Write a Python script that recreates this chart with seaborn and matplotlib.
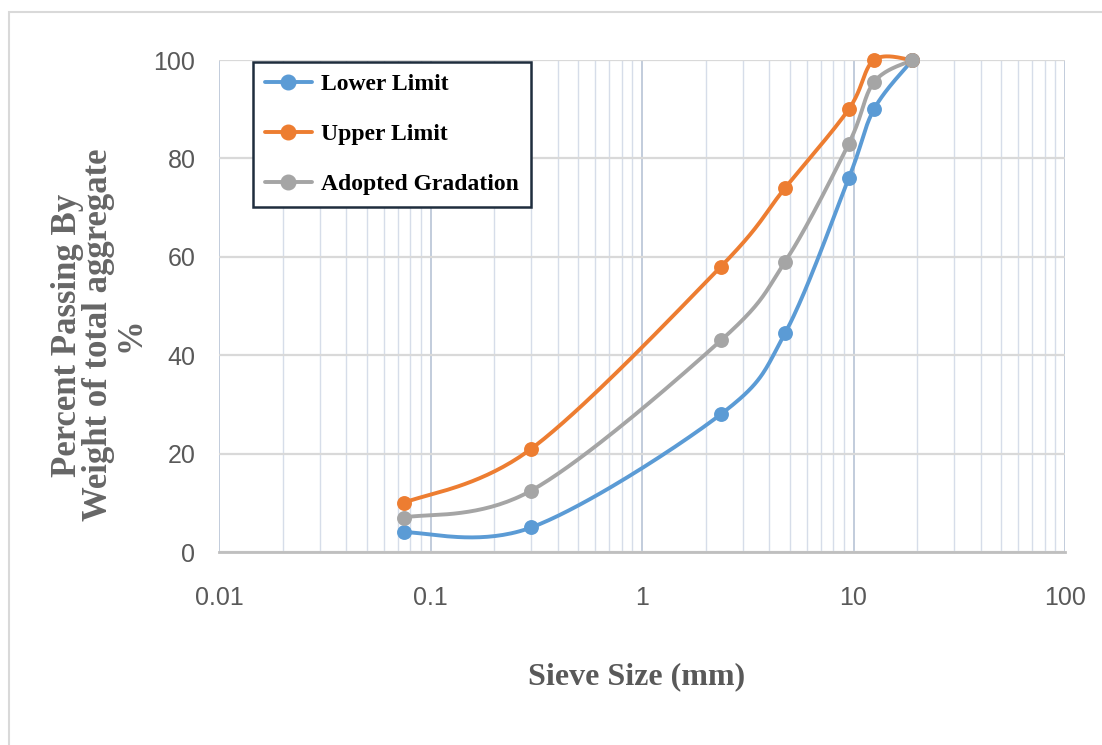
import numpy as np
import pandas as pd
import matplotlib
matplotlib.use("Agg")
import matplotlib.pyplot as plt
import seaborn as sns
from matplotlib.lines import Line2D
from matplotlib.patches import Rectangle
from matplotlib.ticker import FixedLocator, LogLocator, NullFormatter
from matplotlib import font_manager

# ---------------- data ----------------
sieve_mm = [0.075, 0.3, 2.36, 4.75, 9.5, 12.5, 19]
lower_limit = [4, 5, 28, 44.5, 76, 90, 100]
upper_limit = [10, 21, 58, 74, 90, 100, 100]
adopted_gradation = [7, 12.5, 43, 59, 83, 95.5, 100]
series_names = ["Lower Limit", "Upper Limit", "Adopted Gradation"]
x_ticks = [0.01, 0.1, 1, 10, 100]
x_tick_labels = ["0.01", "0.1", "1", "10", "100"]
y_ticks = [0, 20, 40, 60, 80, 100]

colors = ["#5B9BD5", "#ED7D31", "#A5A5A5"]

sns.set_theme(style="white")

names = {f.name for f in font_manager.fontManager.ttflist}
tick_family = "Liberation Sans Narrow" if "Liberation Sans Narrow" in names else (
    "Liberation Sans" if "Liberation Sans" in names else "DejaVu Sans")
serif_family = "Liberation Serif" if "Liberation Serif" in names else "DejaVu Serif"
plt.rcParams["font.family"] = [tick_family, "DejaVu Sans"]


def excel_smooth(xs, ys, n=40):
    """Excel-style smoothed line through the data points (Bezier, log-x space)."""
    pts = np.column_stack([np.log10(xs), np.asarray(ys, float)])
    out = []
    for i in range(len(pts) - 1):
        p0 = pts[i - 1] if i > 0 else pts[i]
        p1, p2 = pts[i], pts[i + 1]
        p3 = pts[i + 2] if i + 2 < len(pts) else pts[i + 1]
        c1 = p1 + (p2 - p0) / 6.0
        c2 = p2 - (p3 - p1) / 6.0
        t = np.linspace(0, 1, n)[:, None]
        seg = (1 - t) ** 3 * p1 + 3 * (1 - t) ** 2 * t * c1 + 3 * (1 - t) * t ** 2 * c2 + t ** 3 * p2
        out.append(seg if i == 0 else seg[1:])
    arr = np.vstack(out)
    return 10 ** arr[:, 0], arr[:, 1]


fig = plt.figure(figsize=(11.02, 7.45), dpi=100)
W, H = 1102, 745
L, R, T, B = 219, 1065, 60, 552
ax = fig.add_axes([L / W, 1 - B / H, (R - L) / W, (B - T) / H])
ax.set_xscale("log")
ax.set_xlim(0.01, 100)
ax.set_ylim(0, 100)

# grid
ax.xaxis.set_major_locator(FixedLocator(x_ticks))
ax.xaxis.set_minor_locator(LogLocator(base=10, subs=np.arange(2, 10)))
ax.xaxis.set_minor_formatter(NullFormatter())
ax.set_xticklabels(x_tick_labels)
ax.set_yticks(y_ticks)
ax.grid(which="minor", axis="x", color="#d6dde9", lw=1.0)
ax.grid(which="major", axis="x", color="#b8c3d6", lw=1.2)
ax.grid(which="major", axis="y", color="#d9d9d9", lw=1.6)
ax.set_axisbelow(True)
for s in ["left", "right", "top"]:
    ax.spines[s].set_visible(False)
ax.spines["bottom"].set_color("#bfbfbf")
ax.spines["bottom"].set_linewidth(2)

ax.tick_params(axis="x", which="major", direction="out", length=9.5, width=1.2,
               color="#bfbfbf", pad=15, labelsize=18, labelcolor="#595959")
ax.tick_params(axis="x", which="minor", length=0)
ax.tick_params(axis="y", length=0, pad=17, labelsize=18, labelcolor="#595959")

all_series = [lower_limit, upper_limit, adopted_gradation]
for name, vals, c in zip(series_names, all_series, colors):
    sx, sy = excel_smooth(sieve_mm, vals)
    df_s = pd.DataFrame({"x": sx, "y": sy})
    sns.lineplot(data=df_s, x="x", y="y", sort=False, estimator=None, color=c,
                 lw=2.8, ax=ax, legend=False)
    ax.lines[-1].set_clip_on(False)
    df_p = pd.DataFrame({"x": sieve_mm, "y": vals})
    sns.scatterplot(data=df_p, x="x", y="y", color=c, s=115, linewidth=0,
                    ax=ax, legend=False, zorder=5)
    ax.collections[-1].set_clip_on(False)

ax.set_xlabel("Sieve Size (mm)", family=serif_family, weight="bold", size=23,
              color="#595959", va="center")
ax.xaxis.set_label_coords((637 - L) / (R - L), (B - 677) / (B - T))
ax.set_ylabel("Percent Passing By\nWeight of total aggregate\n%", family=serif_family,
              weight="bold", size=25, color="#666666", va="center", ha="center",
              linespacing=0.95, multialignment="center")
ax.yaxis.set_label_coords((99 - L) / (R - L), (B - 335) / (B - T))

handles = [Line2D([0], [0], color=c, lw=2.8, marker="o", markersize=10.5) for c in colors]
leg = ax.legend(handles, series_names, loc="upper left",
                bbox_to_anchor=((253 - L) / (R - L), 1 - (62 - T) / (B - T)),
                prop={"family": serif_family, "weight": "bold", "size": 17},
                frameon=True, fancybox=False, framealpha=1, edgecolor="#1f2d3d",
                facecolor="white", handlelength=2.0, handletextpad=0.4,
                labelspacing=1.2, borderpad=0.5, borderaxespad=0)
leg.get_frame().set_linewidth(1.8)
for t in leg.get_texts():
    t.set_color("black")

fig.patches.append(Rectangle((9 / W, -0.01), 1.0, 1 - 12 / H + 0.01, transform=fig.transFigure,
                             fill=False, edgecolor="#d9d9d9", lw=1.5))

fig.savefig("out.png", dpi=100)
